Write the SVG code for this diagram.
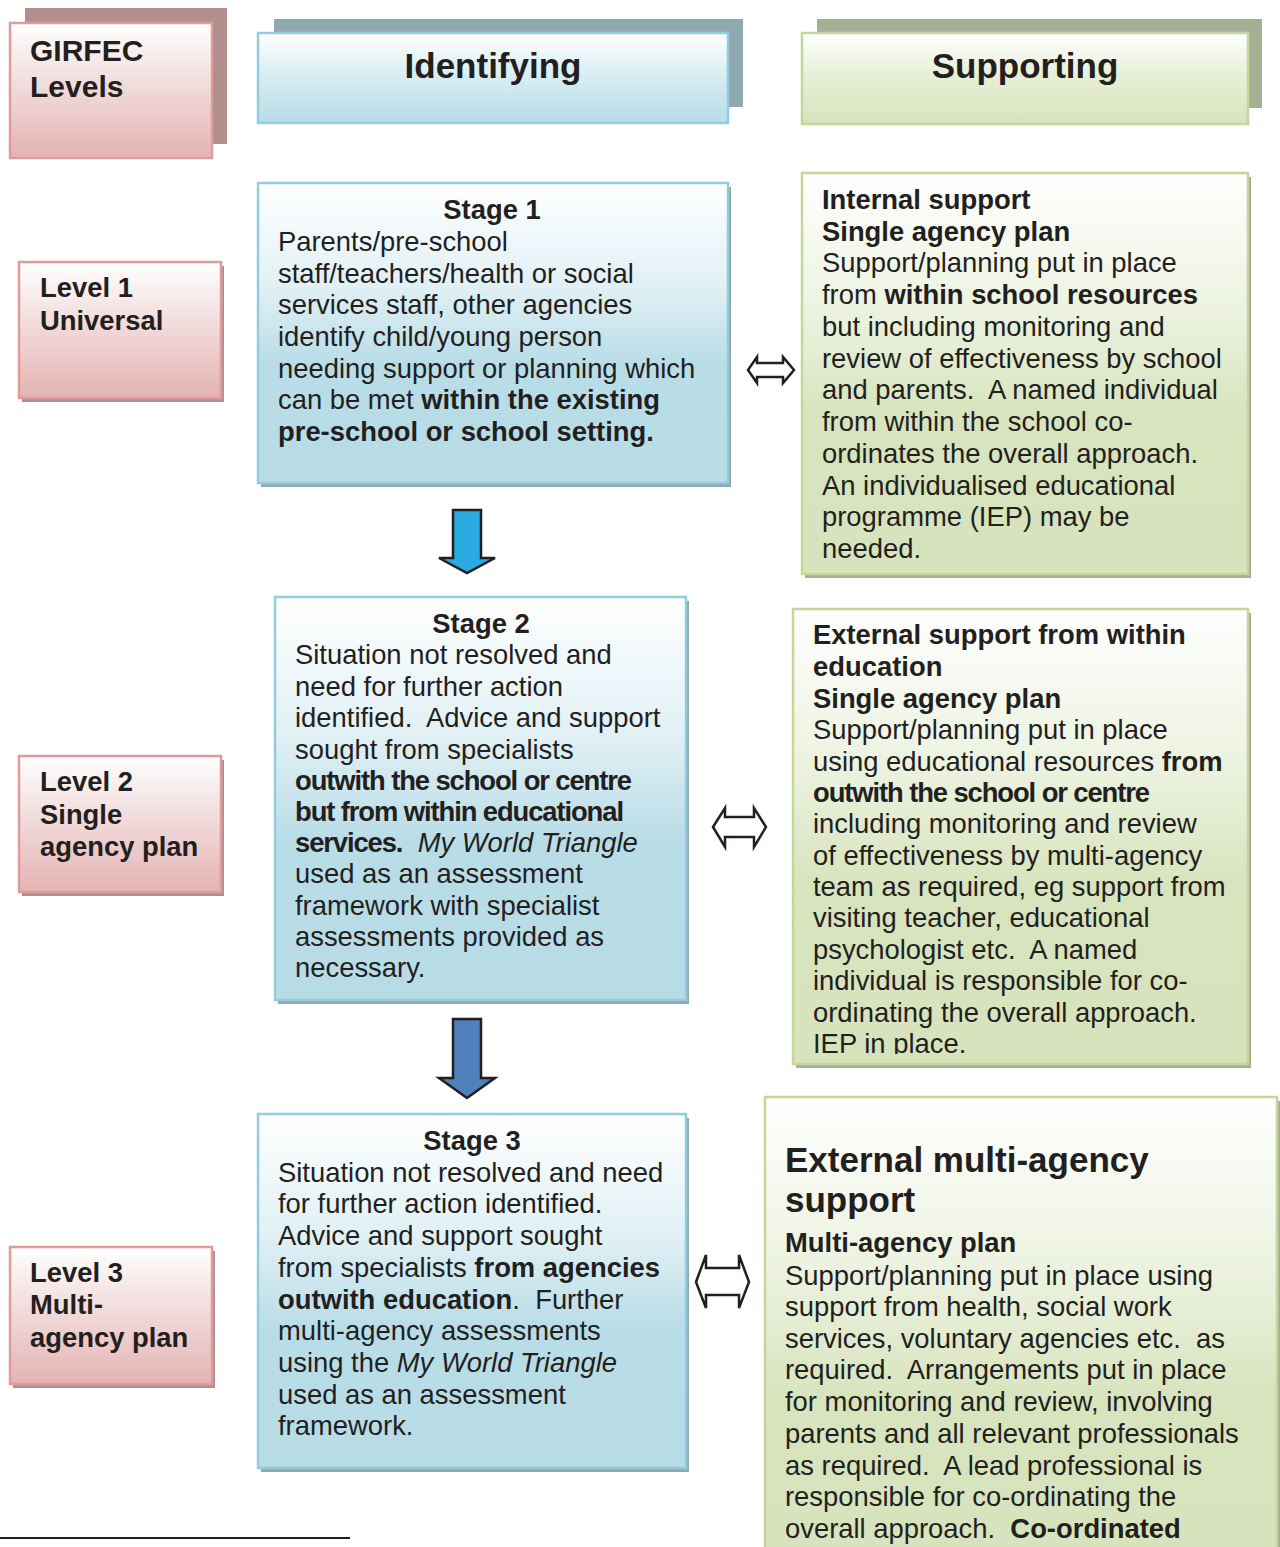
<svg xmlns="http://www.w3.org/2000/svg" width="1280" height="1547" viewBox="0 0 1280 1547" xml:space="preserve">
<defs>
<linearGradient id="gPink" x1="0" y1="0" x2="0" y2="1"><stop offset="0" stop-color="#ffffff"/><stop offset="0.45" stop-color="#f2dcdc"/><stop offset="1" stop-color="#e4b3b3"/></linearGradient>
<linearGradient id="gBlue" x1="0" y1="0" x2="0" y2="1"><stop offset="0" stop-color="#ffffff"/><stop offset="0.5" stop-color="#d6ecf2"/><stop offset="1" stop-color="#b7dce6"/></linearGradient>
<linearGradient id="gGreen" x1="0" y1="0" x2="0" y2="1"><stop offset="0" stop-color="#ffffff"/><stop offset="0.5" stop-color="#e6eed5"/><stop offset="1" stop-color="#d7e3bc"/></linearGradient>
<linearGradient id="gBlueT" x1="0" y1="0" x2="0" y2="1"><stop offset="0" stop-color="#ffffff"/><stop offset="0.35" stop-color="#e0f0f5"/><stop offset="0.6" stop-color="#b9dde7"/><stop offset="1" stop-color="#b7dce6"/></linearGradient>
<linearGradient id="gGreenT" x1="0" y1="0" x2="0" y2="1"><stop offset="0" stop-color="#ffffff"/><stop offset="0.35" stop-color="#ecf2df"/><stop offset="0.6" stop-color="#d8e4be"/><stop offset="1" stop-color="#d7e3bc"/></linearGradient>
<clipPath id="clipExt"><rect x="793" y="609" width="455" height="445"/></clipPath>
<style>
text{font-family:"Liberation Sans",Arial,sans-serif;fill:#231f20;white-space:pre;}
.b{font-weight:bold;}
.i{font-style:italic;}
.t{font-size:27.4px;}
.c{letter-spacing:-1.1px;}
.h{font-size:30px;font-weight:bold;}
.hd{font-size:35px;font-weight:bold;}
.pk{fill:url(#gPink);stroke:#e09c9c;stroke-width:2.5;}
.bl{fill:url(#gBlue);stroke:#93cddd;stroke-width:2.5;}
.gr{fill:url(#gGreen);stroke:#c3d69b;stroke-width:2.5;}
.blT{fill:url(#gBlueT);stroke:#93cddd;stroke-width:2.5;}
.grT{fill:url(#gGreenT);stroke:#c3d69b;stroke-width:2.5;}
.shP{fill:#b08f8c;}
.shB{fill:#8fa9b0;}
.shG{fill:#a6ae94;}
.dbl{fill:#ffffff;stroke:#231f20;stroke-width:2.5;stroke-linejoin:miter;}
.dn{stroke:#231f20;stroke-width:2.5;}
</style>
</defs>
<rect width="1280" height="1547" fill="#ffffff"/>
<g id="girfec-levels">
<rect class="shP" x="25" y="8" width="202" height="136"/>
<rect class="pk" x="10" y="23" width="202" height="135"/>
<text class="h" x="30" y="61">GIRFEC</text>
<text class="h" x="30" y="97">Levels</text>
</g>
<g id="identifying">
<rect class="shB" x="274" y="19" width="469" height="88"/>
<rect class="bl" x="258" y="33" width="470" height="90"/>
<text class="hd" x="493" y="78" text-anchor="middle">Identifying</text>
</g>
<g id="supporting">
<rect class="shG" x="817" y="19" width="445" height="89"/>
<rect class="gr" x="802" y="33" width="446" height="91"/>
<text class="hd" x="1025" y="78" text-anchor="middle">Supporting</text>
</g>
<g id="level1">
<rect class="shP" x="22" y="266" width="202" height="136"/>
<rect class="pk" x="19" y="262" width="202" height="136"/>
<text class="t b" x="40" y="297">Level 1</text>
<text class="t b" x="40" y="330">Universal</text>
</g>
<g id="level2">
<rect class="shP" x="22" y="760" width="202" height="136"/>
<rect class="pk" x="19" y="756" width="202" height="136"/>
<text class="t b" x="40" y="791">Level 2</text>
<text class="t b" x="40" y="824">Single</text>
<text class="t b" x="40" y="856">agency plan</text>
</g>
<g id="level3">
<rect class="shP" x="13" y="1251" width="202" height="137"/>
<rect class="pk" x="10" y="1247" width="202" height="137"/>
<text class="t b" x="30" y="1282">Level 3</text>
<text class="t b" x="30" y="1314">Multi-</text>
<text class="t b" x="30" y="1347">agency plan</text>
</g>
<g id="stage1">
<rect class="shB" x="261" y="187" width="470" height="300"/>
<rect class="blT" x="258" y="183" width="470" height="300"/>
<text class="t b" x="492" y="219" text-anchor="middle">Stage 1</text>
<text class="t" x="278" y="251">Parents/pre-school</text>
<text class="t" x="278" y="283">staff/teachers/health or social</text>
<text class="t" x="278" y="314">services staff, other agencies</text>
<text class="t" x="278" y="346">identify child/young person</text>
<text class="t" x="278" y="378">needing support or planning which</text>
<text class="t" x="278" y="409">can be met <tspan class="b">within the existing</tspan></text>
<text class="t b" x="278" y="441">pre-school or school setting.</text>
</g>
<g id="internal-support">
<rect class="shG" x="805" y="177" width="446" height="401"/>
<rect class="grT" x="802" y="173" width="446" height="401"/>
<text class="t b" x="822" y="209">Internal support</text>
<text class="t b" x="822" y="241">Single agency plan</text>
<text class="t" x="822" y="272">Support/planning put in place</text>
<text class="t" x="822" y="304">from <tspan class="b">within school resources</tspan></text>
<text class="t" x="822" y="336">but including monitoring and</text>
<text class="t" x="822" y="368">review of effectiveness by school</text>
<text class="t" x="822" y="399">and parents.  A named individual</text>
<text class="t" x="822" y="431">from within the school co-</text>
<text class="t" x="822" y="463">ordinates the overall approach.</text>
<text class="t" x="822" y="495">An individualised educational</text>
<text class="t" x="822" y="526">programme (IEP) may be</text>
<text class="t" x="822" y="558">needed.</text>
</g>
<g id="stage2">
<rect class="shB" x="278" y="601" width="411" height="403"/>
<rect class="blT" x="275" y="597" width="411" height="403"/>
<text class="t b" x="481" y="633" text-anchor="middle">Stage 2</text>
<text class="t" x="295" y="664">Situation not resolved and</text>
<text class="t" x="295" y="696">need for further action</text>
<text class="t" x="295" y="727">identified.  Advice and support</text>
<text class="t" x="295" y="759">sought from specialists</text>
<text class="t b c" x="295" y="790">outwith the school or centre</text>
<text class="t b c" x="295" y="821">but from within educational</text>
<text class="t" x="295" y="852"><tspan class="b c">services.</tspan>  <tspan class="i">My World Triangle</tspan></text>
<text class="t" x="295" y="883">used as an assessment</text>
<text class="t" x="295" y="915">framework with specialist</text>
<text class="t" x="295" y="946">assessments provided as</text>
<text class="t" x="295" y="977">necessary.</text>
</g>
<g id="external-education">
<rect class="shG" x="796" y="613" width="455" height="455"/>
<rect class="grT" x="793" y="609" width="455" height="455"/>
<g clip-path="url(#clipExt)">
<text class="t b" x="813" y="644">External support from within</text>
<text class="t b" x="813" y="676">education</text>
<text class="t b" x="813" y="708">Single agency plan</text>
<text class="t" x="813" y="739">Support/planning put in place</text>
<text class="t" x="813" y="771">using educational resources <tspan class="b">from</tspan></text>
<text class="t b c" x="813" y="802">outwith the school or centre</text>
<text class="t" x="813" y="833">including monitoring and review</text>
<text class="t" x="813" y="865">of effectiveness by multi-agency</text>
<text class="t" x="813" y="896">team as required, eg support from</text>
<text class="t" x="813" y="927">visiting teacher, educational</text>
<text class="t" x="813" y="959">psychologist etc.  A named</text>
<text class="t" x="813" y="990">individual is responsible for co-</text>
<text class="t" x="813" y="1022">ordinating the overall approach.</text>
<text class="t" x="813" y="1053">IEP in place.</text>
</g>
</g>
<g id="stage3">
<rect class="shB" x="261" y="1118" width="428" height="354"/>
<rect class="blT" x="258" y="1114" width="428" height="354"/>
<text class="t b" x="472" y="1150" text-anchor="middle">Stage 3</text>
<text class="t" x="278" y="1182">Situation not resolved and need</text>
<text class="t" x="278" y="1213">for further action identified.</text>
<text class="t" x="278" y="1245">Advice and support sought</text>
<text class="t" x="278" y="1277">from specialists <tspan class="b">from agencies</tspan></text>
<text class="t" x="278" y="1309"><tspan class="b">outwith education</tspan>.  Further</text>
<text class="t" x="278" y="1340">multi-agency assessments</text>
<text class="t" x="278" y="1372">using the <tspan class="i">My World Triangle</tspan></text>
<text class="t" x="278" y="1404">used as an assessment</text>
<text class="t" x="278" y="1435">framework.</text>
</g>
<g id="external-multi-agency">
<rect class="shG" x="768" y="1101" width="512" height="500"/>
<rect class="grT" x="765" y="1097" width="512" height="500"/>
<text class="b" x="785" y="1172" font-size="35">External multi-agency</text>
<text class="b" x="785" y="1212" font-size="35">support</text>
<text class="t b" x="785" y="1252">Multi-agency plan</text>
<text class="t" x="785" y="1285">Support/planning put in place using</text>
<text class="t" x="785" y="1316">support from health, social work</text>
<text class="t" x="785" y="1348">services, voluntary agencies etc.  as</text>
<text class="t" x="785" y="1379">required.  Arrangements put in place</text>
<text class="t" x="785" y="1411">for monitoring and review, involving</text>
<text class="t" x="785" y="1443">parents and all relevant professionals</text>
<text class="t" x="785" y="1475">as required.  A lead professional is</text>
<text class="t" x="785" y="1506">responsible for co-ordinating the</text>
<text class="t" x="785" y="1538">overall approach.  <tspan class="b">Co-ordinated</tspan></text>
</g>
<g id="connectors">
<path class="dn" fill="#29abe2" d="M453,510 H481 V558 H495 L467,573 L439,558 H453 Z"/>
<path class="dn" fill="#4f81bd" d="M453,1019 H481 V1078 H495 L467,1098 L439,1078 H453 Z"/>
<path class="dbl" d="M748,370 L757,357 V363 H783 V357 L794,370 L783,383 V377 H757 V383 Z"/>
<path class="dbl" d="M713,827 L725,808 V817 H754 V808 L766,827 L754,847 V837 H725 V847 Z"/>
<path class="dbl" d="M696,1282 L706,1255 V1268 H739 V1255 L749,1282 L739,1308 V1295 H706 V1308 Z"/>
</g>
<line x1="0" y1="1538" x2="350" y2="1538" stroke="#231f20" stroke-width="2"/>
</svg>
